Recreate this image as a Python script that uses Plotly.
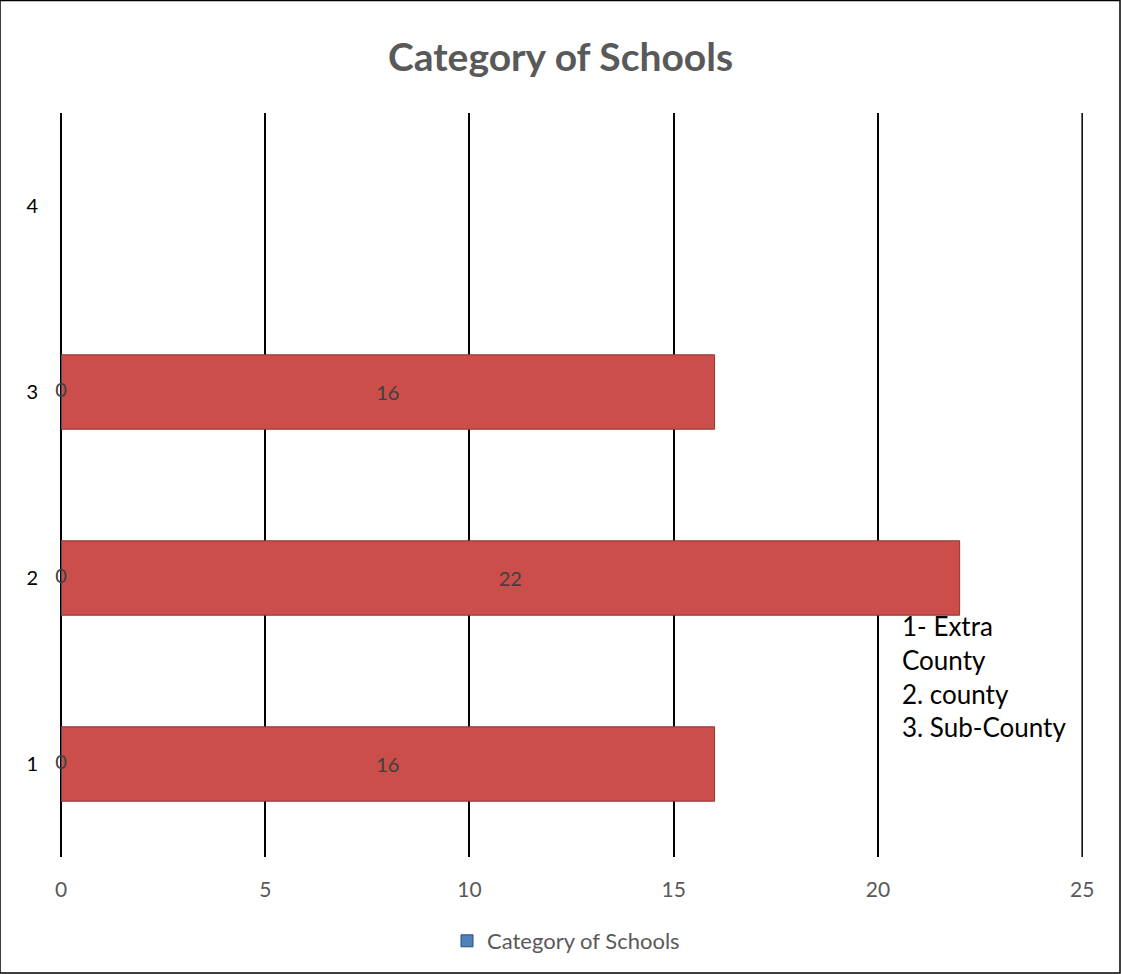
import plotly.graph_objects as go

categories = [1, 2, 3, 4]
school_values = [16, 22, 16, None]
zero_series = [0, 0, 0, None]
x_ticks = [0, 5, 10, 15, 20, 25]
legend_name = "Category of Schools"
note_text = "1- Extra<br>County<br>2. county<br>3. Sub-County"

FONT = "Lato"
fig = go.Figure()

fig.add_trace(go.Bar(
    y=categories, x=school_values, orientation="h", width=0.4,
    marker=dict(color="#CB4E4A", line=dict(color="#8E3532", width=1)),
    text=[str(v) if v is not None else "" for v in school_values],
    textposition="inside", insidetextanchor="middle",
    textfont=dict(family=FONT, size=20, color="#404040"),
    showlegend=False, hoverinfo="skip",
))
fig.add_trace(go.Bar(
    y=categories, x=zero_series, orientation="h", width=0.4,
    name=legend_name, marker=dict(color="#4F81BD", line=dict(color="#2C4D75", width=1)),
    showlegend=True, hoverinfo="skip",
))
fig.add_trace(go.Scatter(
    y=categories[:3], x=zero_series[:3], mode="text", cliponaxis=False,
    text=[str(v) for v in zero_series[:3]], textposition="middle center",
    textfont=dict(family=FONT, size=20, color="#404040"),
    showlegend=False, hoverinfo="skip",
))

fig.add_annotation(
    x=20.55, y=1.47, xref="x", yref="y", text=note_text, showarrow=False,
    xanchor="left", yanchor="middle", align="left",
    font=dict(family=FONT, size=26, color="#000000"),
)

# gridline at the right edge of the value axis
fig.add_shape(type="line", xref="x", yref="paper", x0=x_ticks[-1], x1=x_ticks[-1],
              y0=0, y1=1, line=dict(color="black", width=1.5), layer="below")

fig.add_shape(type="rect", xref="paper", yref="paper",
              x0=-61/1022, x1=(1120-61)/1022, y0=-(973-857)/744, y1=(857-0.5)/744,
              line=dict(color="black", width=1.5), layer="above")

fig.update_layout(
    width=1121, height=974,
    margin=dict(l=61, r=38, t=113, b=117),
    paper_bgcolor="white", plot_bgcolor="white",
    barmode="overlay",
    title=dict(text="<b>Category of Schools</b>", x=0.5, xanchor="center",
               y=1 - 57/974, yanchor="middle", yref="container",
               font=dict(family=FONT, size=39, color="#595959")),
    xaxis=dict(range=[0, 25.02], tickvals=x_ticks, showgrid=True, gridcolor="black",
               gridwidth=1.5, zeroline=True, zerolinecolor="black", zerolinewidth=1.5,
               showline=False, ticks="", ticklabelstandoff=18,
               tickfont=dict(family=FONT, size=21, color="#595959")),
    yaxis=dict(range=[0.5, 4.5], tickvals=categories, showgrid=False, zeroline=False,
               showline=False, ticks="", ticklabelstandoff=22,
               tickfont=dict(family=FONT, size=20, color="#000000")),
    legend=dict(orientation="h", x=0.5 - 6/1022, xanchor="center", y=-(941-857)/744,
                yanchor="middle", font=dict(family=FONT, size=22, color="#595959"),
                itemwidth=30),
)

fig.write_html("out.html")
